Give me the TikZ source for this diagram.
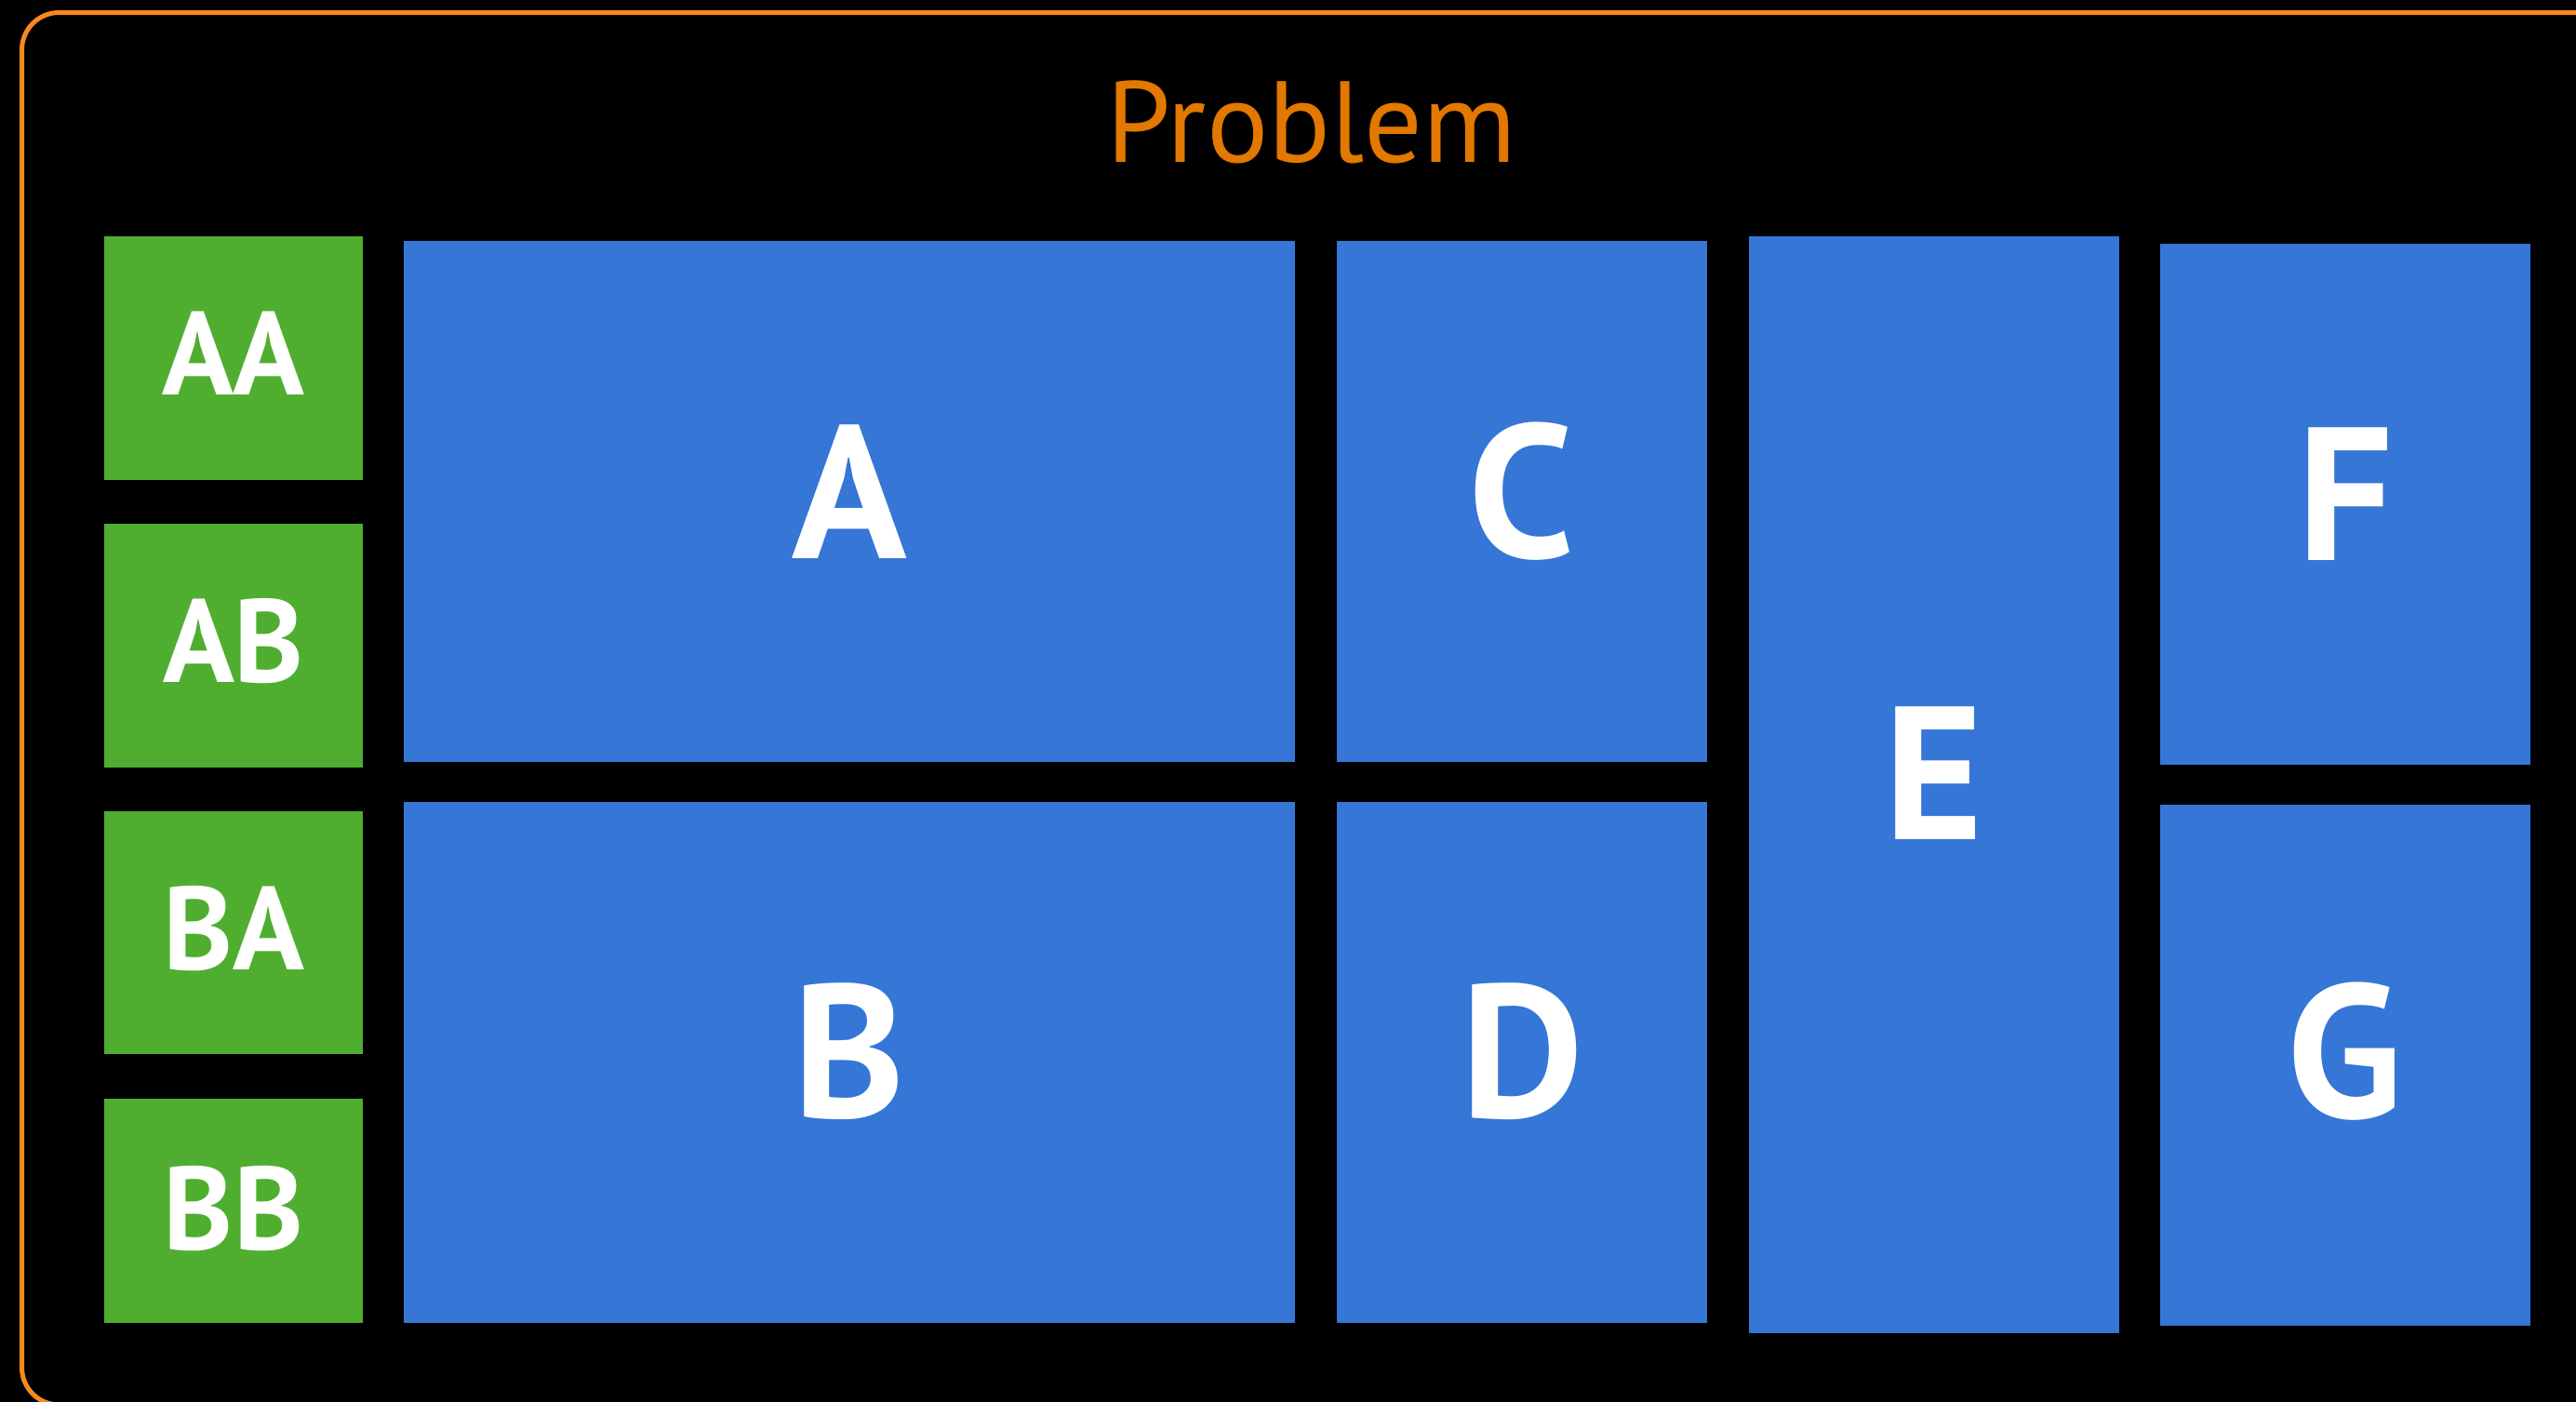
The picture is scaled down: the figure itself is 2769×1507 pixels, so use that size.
\documentclass[tikz,border=0pt]{standalone}
\usepackage{fontspec}
\setmainfont{PT Sans}
\usetikzlibrary{fit}
\definecolor{boxgreen}{RGB}{79,174,48}
\definecolor{boxblue}{RGB}{53,118,214}
\definecolor{frameorange}{RGB}{245,137,31}
\definecolor{titleorange}{RGB}{226,120,0}
\tikzset{
  cell/.style={inner sep=0pt, outer sep=0pt, draw=none},
  greencell/.style={cell, fill=boxgreen},
  bluecell/.style={cell, fill=boxblue},
  biglabel/.style={anchor=base, text=white, inner sep=0pt, font=\bfseries\fontsize{204}{204}\selectfont},
  smalllabel/.style={anchor=base, text=white, inner sep=0pt, font=\bfseries\fontsize{127}{127}\selectfont},
  titlelabel/.style={anchor=base, text=titleorange, inner sep=0pt, font=\fontsize{124}{124}\selectfont},
  frame/.style={draw=frameorange, line width=5pt, rounded corners=40pt}
}
\begin{document}
\begin{tikzpicture}[x=1pt, y=-1pt]
\useasboundingbox (0,0) rectangle (2769,1507);
\clip (0,0) rectangle (2769,1507);
\fill[black] (0,0) rectangle (2769,1507);
\draw[frame] (23.5,13.5) rectangle (2820,1510);
\node[titlelabel] (title) at (1410,174) {Problem};
% green cells
\node[greencell, fit={(112,254) (390,516)}] (AA) {};
\node[greencell, fit={(112,563) (390,825)}] (AB) {};
\node[greencell, fit={(112,872) (390,1133)}] (BA) {};
\node[greencell, fit={(112,1181) (390,1422)}] (BB) {};
% blue cells
\node[bluecell, fit={(434,259) (1392,819)}] (A) {};
\node[bluecell, fit={(434,862) (1392,1422)}] (B) {};
\node[bluecell, fit={(1437,259) (1835,819)}] (C) {};
\node[bluecell, fit={(1437,862) (1835,1422)}] (D) {};
\node[bluecell, fit={(1880,254) (2278,1433)}] (E) {};
\node[bluecell, fit={(2322,262) (2720,822)}] (F) {};
\node[bluecell, fit={(2322,865) (2720,1425)}] (G) {};
% labels
\node[smalllabel] (lAA) at (251,424) {AA};
\node[smalllabel] (lAB) at (251,733) {AB};
\node[smalllabel] (lBA) at (251,1042) {BA};
\node[smalllabel] (lBB) at (251,1343) {BB};
\node[biglabel] (lA) at (913,600) {A};
\node[biglabel] (lB) at (913,1201) {B};
\node[biglabel] (lC) at (1636,599) {C};
\node[biglabel] (lD) at (1636,1201) {D};
\node[biglabel] (lE) at (2079,902) {E};
\node[biglabel] (lF) at (2521,602) {F};
\node[biglabel] (lG) at (2521,1201) {G};
\end{tikzpicture}
\end{document}
